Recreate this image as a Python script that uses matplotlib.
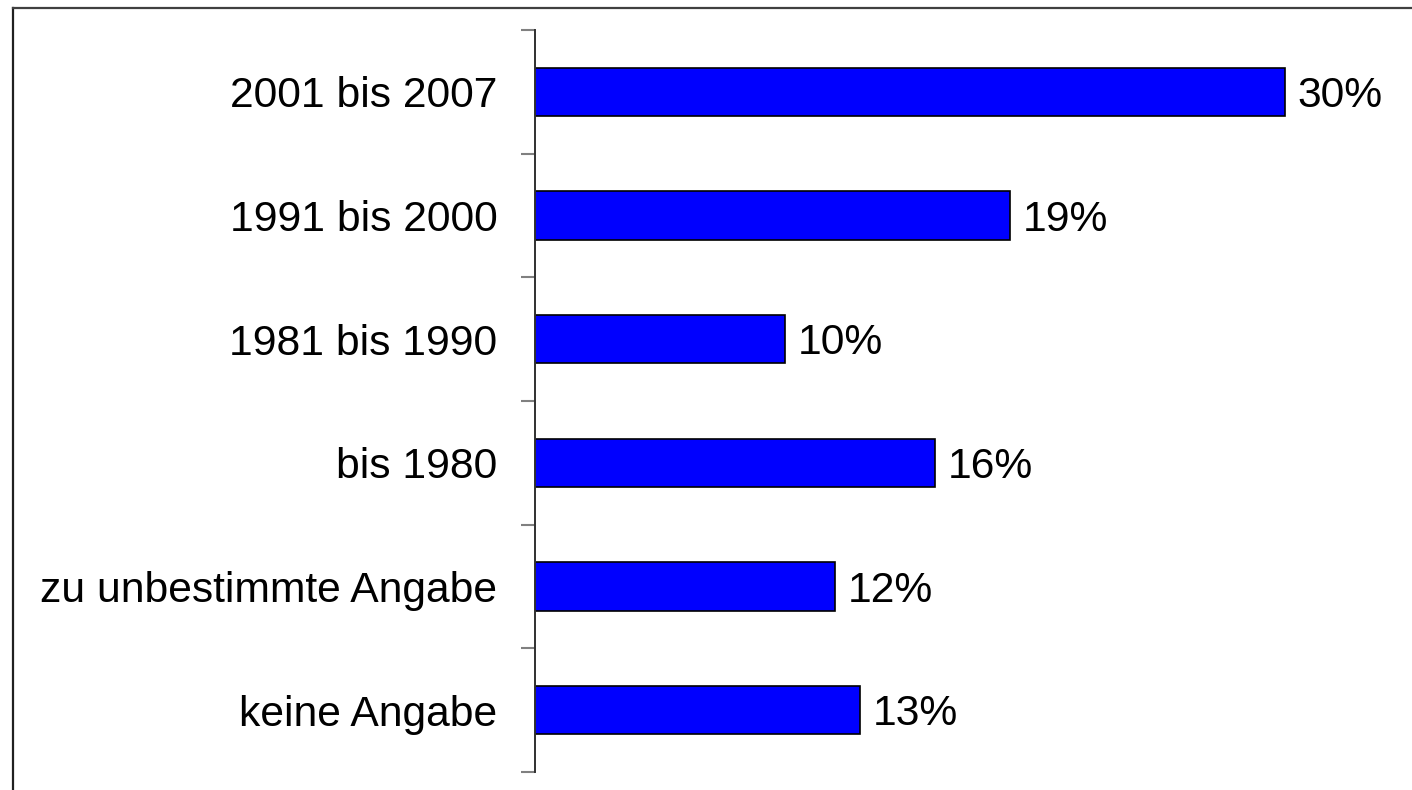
import numpy as np
from matplotlib import pyplot as plt
from matplotlib.lines import Line2D

categories = ['2001 bis 2007', '1991 bis 2000', '1981 bis 1990', 'bis 1980',
              'zu unbestimmte Angabe', 'keine Angabe']
values = [30, 19, 10, 16, 12, 13]
value_labels = ['30%', '19%', '10%', '16%', '12%', '13%']

plt.rcParams['font.family'] = ['Liberation Sans', 'DejaVu Sans']

W, H = 1412, 790
fig = plt.figure(figsize=(W / 100, H / 100), dpi=100)
ax = fig.add_axes([535 / W, 1 - 772 / H, 1 - 535 / W, (772 - 30) / H])

pos = np.arange(len(categories))
ax.barh(pos, values, height=0.39, color='#0000ff', edgecolor='black', linewidth=1.2)

ax.set_ylim(len(categories) - 0.5, -0.5)
ax.set_xlim(0, (W - 535) / 25)

# boundary ticks (unlabelled) and centred labels
ax.set_yticks(np.arange(-0.5, len(categories), 1.0))
ax.set_yticklabels([])
ax.tick_params(axis='y', which='major', direction='out', length=10, width=1.5,
               color='#808080')
ax.set_yticks(pos, minor=True)
ax.set_yticklabels(categories, minor=True, fontsize=30.7)
ax.tick_params(axis='y', which='minor', length=0, pad=27)

ax.set_xticks([])
for side in ['top', 'right', 'bottom']:
    ax.spines[side].set_visible(False)
ax.spines['left'].set_color('#303030')
ax.spines['left'].set_linewidth(1.4)

for p, v, lab in zip(pos, values, value_labels):
    ax.annotate(lab, (v, p), xytext=(9, -3), textcoords='offset points',
                ha='left', va='center', fontsize=30.7)

# outer frame (only left and top edges visible)
fig.add_artist(Line2D([12.5 / W, 12.5 / W], [0, 1 - 7.5 / H], transform=fig.transFigure,
                      color='#202020', linewidth=1.6))
fig.add_artist(Line2D([12.5 / W, 1], [1 - 7.5 / H, 1 - 7.5 / H], transform=fig.transFigure,
                      color='#404040', linewidth=1.6))

fig.savefig('out.png', dpi=100)
